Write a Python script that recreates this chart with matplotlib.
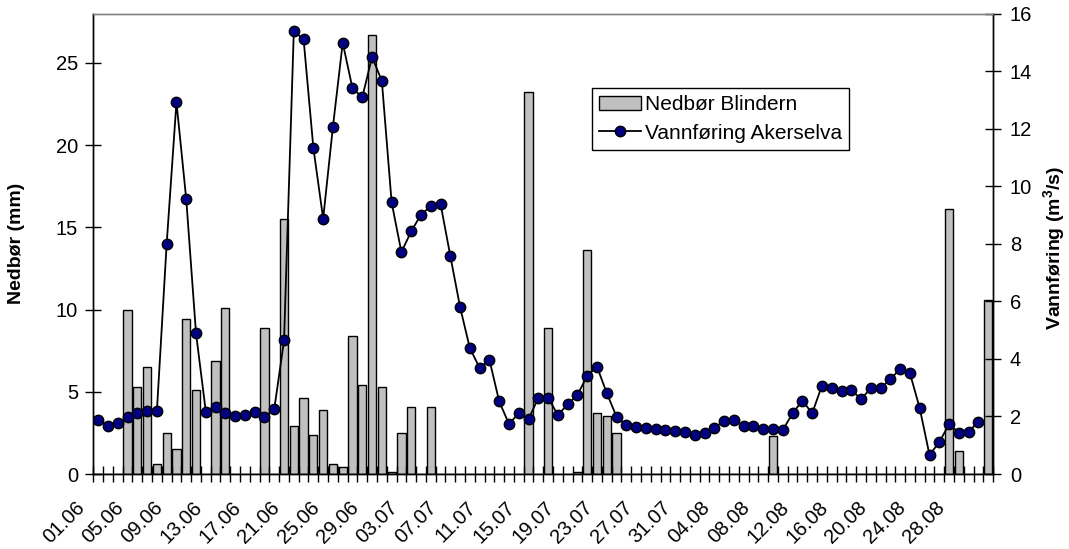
import matplotlib
matplotlib.use("Agg")
import matplotlib.pyplot as plt
import matplotlib.transforms as mtransforms
import numpy as np
import pandas as pd

plt.rcParams['font.family'] = ['Liberation Sans', 'DejaVu Sans']

# days 01.06 - 31.08
days = pd.date_range('2000-06-01', '2000-08-31').strftime('%d.%m').tolist()

# precipitation Blindern (mm)
nedbor = [0, 0, 0, 10.0, 5.3, 6.5, 0.6, 2.5, 1.5, 9.4,
          5.1, 0, 6.9, 10.1, 0, 0, 0, 8.9, 0, 15.5,
          2.9, 4.6, 2.4, 3.9, 0.6, 0.4, 8.4, 5.4, 26.7, 5.3,
          0.1, 2.5, 4.1, 0, 4.1, 0, 0, 0, 0, 0,
          0, 0, 0, 0, 23.2, 0, 8.9, 0, 0, 0.1,
          13.6, 3.7, 3.5, 2.5, 0, 0, 0, 0, 0, 0,
          0, 0, 0, 0, 0, 0, 0, 0, 0, 2.3,
          0, 0, 0, 0, 0, 0, 0, 0, 0, 0,
          0, 0, 0, 0, 0, 0, 0, 16.1, 1.4, 0,
          0, 10.6]

# discharge Akerselva (m3/s)
vannforing = [1.88, 1.67, 1.76, 1.97, 2.11, 2.20, 2.19, 8.0, 12.92, 9.55,
              4.89, 2.17, 2.34, 2.13, 2.02, 2.04, 2.16, 1.99, 2.25, 4.64,
              15.39, 15.10, 11.33, 8.87, 12.07, 14.98, 13.40, 13.09, 14.49, 13.66,
              9.44, 7.71, 8.43, 9.01, 9.30, 9.39, 7.58, 5.80, 4.37, 3.69,
              3.97, 2.52, 1.74, 2.11, 1.90, 2.65, 2.65, 2.05, 2.42, 2.75,
              3.41, 3.73, 2.81, 1.99, 1.70, 1.62, 1.59, 1.55, 1.53, 1.50,
              1.46, 1.36, 1.42, 1.61, 1.85, 1.88, 1.67, 1.68, 1.57, 1.57,
              1.53, 2.11, 2.55, 2.11, 3.07, 2.98, 2.90, 2.92, 2.60, 2.98,
              2.98, 3.30, 3.65, 3.50, 2.28, 0.66, 1.11, 1.73, 1.44, 1.47,
              1.82, np.nan]

x = np.arange(len(days))

fig = plt.figure(figsize=(10.69, 5.49), dpi=100)
ax = fig.add_axes([0.0873, 0.1366, 0.8417, 0.8388])
ax2 = ax.twinx()

bars = ax.bar(x, nedbor, width=0.84, color='#C0C0C0', edgecolor='black',
              linewidth=1, label='Nedbør Blindern')
line, = ax2.plot(x, vannforing, color='black', lw=1.3, marker='o', ms=7.5,
                 mfc='#000080', mec='black', mew=1, label='Vannføring Akerselva')

ax.set_xlim(-0.5, len(days) - 0.5)
ax.set_ylim(0, 28)
ax2.set_ylim(0, 16)
ax.set_yticks([0, 5, 10, 15, 20, 25])
ax2.set_yticks(range(0, 17, 2))

# tick marks between days, labels every 4th day
ax.set_xticks(np.arange(len(days) + 1) - 0.5)
ax.set_xticklabels([])
ax.set_xticks(x[::4], minor=True)
ax.set_xticklabels(days[::4], minor=True, rotation=45, ha='right', va='top')
ax.tick_params(axis='x', which='major', direction='inout', length=12, width=1)
ax.tick_params(axis='x', which='minor', length=0, labelsize=14.5, pad=17)
offset = mtransforms.ScaledTranslation(-10 / 100, 0, fig.dpi_scale_trans)
for lab in ax.get_xticklabels(minor=True):
    lab.set_transform(lab.get_transform() + offset)

ax.tick_params(axis='y', direction='inout', length=12, width=1, labelsize=14.5, pad=5)
ax2.tick_params(axis='y', direction='inout', length=12, width=1, labelsize=14.5, pad=6)

for a in (ax, ax2):
    for s in a.spines.values():
        s.set_linewidth(1)
ax.spines['top'].set_color('#808080')
ax2.spines['top'].set_color('#808080')

ax.set_ylabel('Nedbør (mm)', fontsize=14, fontweight='bold')
ax2.set_ylabel('Vannføring (m$^{\\mathregular{3}}$/s)', fontsize=14, fontweight='bold')
ax.yaxis.set_label_coords(-0.076, 0.5)
ax2.yaxis.set_label_coords(1.054, 0.49)

leg = ax2.legend([bars, line], ['Nedbør Blindern', 'Vannføring Akerselva'],
                 loc='upper left', bbox_to_anchor=(0.554, 0.838), borderaxespad=0,
                 fontsize=15, fancybox=False, edgecolor='black', framealpha=1,
                 handlelength=2.0, handletextpad=0.2, labelspacing=0.45,
                 borderpad=0.35)
leg.get_frame().set_linewidth(1)

fig.savefig('out.png', dpi=100)
